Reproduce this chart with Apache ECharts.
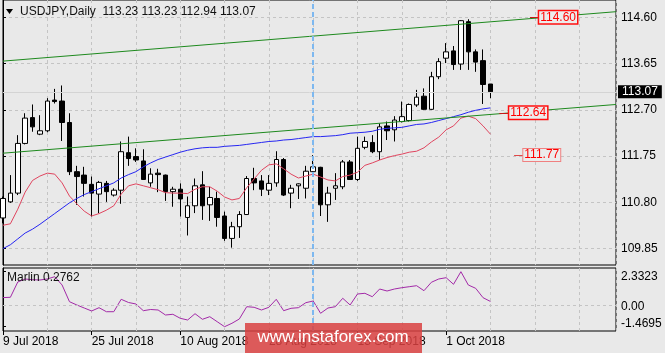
<!DOCTYPE html>
<html>
<head>
<meta charset="utf-8">
<script src="https://cdn.jsdelivr.net/npm/echarts@6/dist/echarts.min.js"></script>
<style>
html, body { margin: 0; padding: 0; background: #e9e9e9; }
#chart { width: 665px; height: 353px; }
</style>
</head>
<body>
<div id="chart"></div>
<script>
// USDJPY daily, 9 Jul 2018 .. 9 Oct 2018 (bar index 0..66)
var symbolTitle = 'USDJPY,Daily  113.23 113.23 112.94 113.07';

var opens = [
  110.48,110.81,110.99,112.01,112.54,112.20,112.27,112.90,112.88,112.44,
  111.43,111.36,111.17,110.97,111.19,110.95,111.05,111.82,111.74,111.65,
  111.20,111.40,111.36,111.02,111.07,110.49,110.73,111.16,110.75,110.88,
  110.52,110.06,110.30,110.55,111.29,111.24,111.05,111.20,111.68,110.99,
  111.14,111.09,111.43,111.52,110.75,111.09,111.12,111.63,111.27,111.93,
  112.03,111.84,112.37,112.29,112.46,112.48,112.80,112.98,112.71,113.38,
  113.76,113.91,113.64,114.51,113.89,113.71,113.23
];
var highs = [
  110.92,111.36,112.18,112.63,112.81,112.59,112.94,113.13,113.20,112.63,
  111.55,111.53,111.33,111.24,111.24,111.09,112.05,112.15,111.91,111.89,
  111.50,111.49,111.37,111.12,111.19,110.92,111.29,111.44,111.12,111.02,
  110.61,110.40,110.62,111.34,111.51,111.36,111.36,111.85,111.71,111.16,
  111.19,111.55,111.77,111.53,111.12,111.40,111.67,111.67,112.15,112.15,
  112.18,112.42,112.46,112.57,112.87,112.83,113.11,113.14,113.48,113.76,
  114.07,114.01,114.54,114.56,113.94,113.94,113.23
];
var lows = [
  110.37,110.79,110.95,111.99,112.25,112.18,112.24,112.83,112.06,111.36,
  110.75,110.92,110.51,110.58,110.81,110.92,110.77,111.55,111.63,111.26,
  111.12,111.01,110.83,110.71,110.51,110.12,110.58,110.44,110.42,110.30,
  110.01,109.87,110.07,110.54,111.05,110.93,110.95,111.12,110.93,110.68,
  110.87,110.88,111.42,110.52,110.40,110.85,111.07,111.26,111.24,111.89,
  111.81,111.67,112.08,112.05,112.44,112.46,112.76,112.70,112.70,113.33,
  113.66,113.52,113.52,113.52,113.48,112.82,112.94
];
var closes = [
  110.88,110.99,112.01,112.53,112.35,112.27,112.88,112.87,112.44,111.43,
  111.33,111.19,110.99,111.21,111.02,111.05,111.84,111.70,111.67,111.27,
  111.38,111.37,111.02,111.07,110.87,110.73,111.14,110.73,110.90,110.49,
  110.06,110.30,110.55,111.29,111.20,111.07,111.19,111.68,110.95,111.09,
  111.18,111.44,111.53,110.75,110.99,111.14,111.63,111.27,111.91,112.05,
  111.84,112.35,112.27,112.49,112.56,112.81,112.96,112.71,113.38,113.69,
  113.89,113.63,114.53,113.89,113.68,113.22,113.07
];

// moving averages
var redLine = [
  110.33,110.36,110.66,111.01,111.25,111.34,111.40,111.38,111.20,110.93,
  110.77,110.62,110.52,110.57,110.64,110.73,110.97,111.14,111.18,111.14,
  111.10,111.06,111.00,110.99,110.99,110.98,111.07,111.12,111.12,111.03,
  110.91,110.85,110.88,111.10,111.28,111.46,111.57,111.59,111.49,111.38,
  111.30,111.34,111.38,111.32,111.26,111.24,111.33,111.36,111.42,111.56,
  111.61,111.67,111.72,111.76,111.79,111.83,111.85,111.92,112.04,112.14,
  112.29,112.37,112.53,112.57,112.52,112.37,112.20
];
var blueLine = [
  109.85,109.93,110.05,110.17,110.25,110.35,110.46,110.57,110.68,110.79,
  110.88,110.96,111.02,111.08,111.14,111.20,111.30,111.37,111.43,111.53,
  111.61,111.68,111.73,111.78,111.83,111.87,111.90,111.92,111.93,111.93,
  111.95,111.96,111.97,111.99,112.01,112.03,112.05,112.06,112.08,112.09,
  112.11,112.13,112.15,112.15,112.16,112.17,112.19,112.22,112.23,112.24,
  112.26,112.30,112.32,112.33,112.34,112.37,112.40,112.41,112.44,112.48,
  112.52,112.56,112.60,112.65,112.69,112.72,112.74
];

// Marlin oscillator (lower pane)
var marlin = [
  0.542,0.563,1.620,1.828,1.779,1.759,1.828,1.987,1.413,0.259,
  0.031,-0.177,-0.384,-0.156,-0.433,-0.433,0.425,0.203,0.100,-0.363,
  -0.280,-0.315,-0.661,-0.612,-0.889,-1.006,-0.571,-0.958,-0.778,-1.124,
  -1.4695,-1.234,-0.937,-0.087,-0.128,-0.315,-0.128,0.425,-0.363,-0.198,
  -0.156,0.190,0.307,-0.543,-0.177,-0.087,0.494,0.031,0.791,0.839,
  0.604,1.136,0.998,1.136,1.226,1.295,1.365,1.019,1.600,1.828,
  1.918,1.461,2.3323,1.413,1.185,0.535,0.2762
];

// trend lines [bar, price]
var upperTrend = [[0, 113.70], [83, 114.715]];
var lowerTrend = [[0, 111.81], [83, 112.81]];

// price tags on the right side
var levelValues = [114.60, 112.64, 111.77];
var levelFrom = [71.35, 67.2, 69.2];
var levelTo = [72.6, 68.55, 70.45];

var priceTicks = [109.85, 110.80, 111.75, 112.70, 113.65, 114.60];
var marlinTicks = [2.3323, 0, -1.4695];
var marlinTickLabels = ['2.3323', '0.00', '-1.4695'];
var dateTicks = [0, 12, 24, 36, 48, 60];
var dateLabels = ['9 Jul 2018', '25 Jul 2018', '10 Aug 2018', '28 Aug 2018', '13 Sep 2018', '1 Oct 2018'];
var lastPrice = 113.07;
var separatorBar = 42;
var lastBar = 83;

var font = '"Liberation Sans", Arial, sans-serif';
var gridDash = {color: '#c4c4c4', type: [3, 3], width: 1};

var candles = opens.map(function (o, i) { return [i, o, closes[i], lows[i], highs[i]]; });
function pts(arr) { return arr.map(function (v, i) { return [i, v]; }); }

var levelMarks = levelValues.map(function (v, k) {
  var third = k === 2;
  return [
    {coord: [levelFrom[k], v],
     lineStyle: {color: third ? '#e04848' : '#c81818', width: 1, type: 'solid'},
     label: {show: true, position: 'end', distance: 0, formatter: v.toFixed(2),
       color: '#ff0000', fontSize: 12, fontFamily: font,
       backgroundColor: '#ececec', borderColor: third ? '#f08080' : '#ff1010',
       borderWidth: third ? 1 : 1.5, padding: [0, 1, 0, 1]}},
    {coord: [levelTo[k], v]}
  ];
});

var chart = echarts.init(document.getElementById('chart'));
chart.setOption({
  backgroundColor: '#e9e9e9',
  animation: false,
  textStyle: {fontFamily: font},
  grid: [
    {left: 3, right: 49, top: 0, height: 265, show: true, borderColor: '#000', borderWidth: 1},
    {left: 3, right: 49, top: 268, height: 63, show: true, borderColor: '#000', borderWidth: 1}
  ],
  xAxis: [
    {gridIndex: 0, type: 'value', min: 0, max: lastBar, interval: 6,
     axisLine: {show: false}, axisTick: {show: false}, axisLabel: {show: false},
     splitLine: {show: true, lineStyle: gridDash}},
    {gridIndex: 1, type: 'value', min: 0, max: lastBar, interval: 6,
     axisLine: {show: false}, axisTick: {show: false}, axisLabel: {show: false},
     splitLine: {show: true, lineStyle: gridDash}},
    {gridIndex: 1, type: 'value', min: 0, max: lastBar, position: 'bottom',
     axisLine: {show: false},
     axisTick: {show: true, customValues: dateTicks, length: 4, lineStyle: {color: '#000'}},
     axisLabel: {customValues: dateTicks, align: 'left', margin: 5, color: '#000', fontSize: 12,
       formatter: function (v) { return dateLabels[dateTicks.indexOf(v)]; }},
     splitLine: {show: false}}
  ],
  yAxis: [
    {gridIndex: 0, type: 'value', position: 'right', min: 109.514, max: 114.955,
     axisLine: {show: true, lineStyle: {color: '#000'}},
     axisTick: {show: true, customValues: priceTicks, length: 3, lineStyle: {color: '#000'}},
     axisLabel: {customValues: priceTicks, color: '#000', fontSize: 12, margin: 5,
       formatter: function (v) { return v.toFixed(2); }},
     splitLine: {show: true, lineStyle: gridDash}},
    {gridIndex: 1, type: 'value', position: 'right', min: -1.7667, max: 2.588,
     axisLine: {show: true, lineStyle: {color: '#000'}},
     axisTick: {show: true, customValues: marlinTicks, length: 3, lineStyle: {color: '#000'}},
     axisLabel: {customValues: marlinTicks, color: '#000', fontSize: 12, margin: 5,
       formatter: function (v) {
         var k = 0, best = 1e9;
         marlinTicks.forEach(function (t, j) { if (Math.abs(t - v) < best) { best = Math.abs(t - v); k = j; } });
         return '{l' + k + '|' + marlinTickLabels[k] + '}';
       },
       rich: {
         l0: {padding: [10, 0, 0, 0], fontSize: 12, color: '#000'},
         l1: {padding: [3, 0, 0, 0], fontSize: 12, color: '#000'},
         l2: {padding: [0, 0, 6, 0], fontSize: 12, color: '#000'}
       }},
     splitLine: {show: false}}
  ],
  series: [
    {type: 'candlestick', xAxisIndex: 0, yAxisIndex: 0, data: candles,
     encode: {x: 0, y: [1, 2, 3, 4]}, barWidth: 5, z: 2,
     itemStyle: {color: '#ffffff', color0: '#000000', borderColor: '#000000', borderColor0: '#000000', borderWidth: 1},
     markLine: {symbol: 'none', silent: true, animation: false, data: [
       {yAxis: lastPrice, lineStyle: {color: '#d4d4d4', width: 1, type: 'solid'},
        label: {show: true, position: 'end', distance: 2, formatter: lastPrice.toFixed(2),
          backgroundColor: '#000', color: '#fff', fontSize: 12, padding: [1, 4, 0, 4]}},
       {xAxis: separatorBar, lineStyle: {color: '#7db8f0', width: 2, type: [5, 3]}, label: {show: false}}
     ]}},
    {type: 'line', xAxisIndex: 0, yAxisIndex: 0, data: pts(redLine), showSymbol: false, z: 3,
     lineStyle: {color: '#e0455f', width: 1}},
    {type: 'line', xAxisIndex: 0, yAxisIndex: 0, data: pts(blueLine), showSymbol: false, z: 3,
     lineStyle: {color: '#2626f2', width: 1}},
    {type: 'line', xAxisIndex: 0, yAxisIndex: 0, data: upperTrend, showSymbol: false, z: 3,
     lineStyle: {color: '#1e8a1e', width: 1},
     markLine: {symbol: 'none', silent: true, animation: false, data: levelMarks}},
    {type: 'line', xAxisIndex: 0, yAxisIndex: 0, data: lowerTrend, showSymbol: false, z: 3,
     lineStyle: {color: '#1e8a1e', width: 1}},
    {type: 'line', xAxisIndex: 1, yAxisIndex: 1, data: pts(marlin), showSymbol: false, z: 3,
     lineStyle: {color: '#a32aa8', width: 1},
     markLine: {symbol: 'none', silent: true, animation: false, data: [
       {yAxis: 0, lineStyle: gridDash, label: {show: false}},
       {xAxis: separatorBar, lineStyle: {color: '#7db8f0', width: 2, type: [5, 3]}, label: {show: false}}
     ]}}
  ],
  graphic: [
    {type: 'polygon', shape: {points: [[6, 9], [13, 9], [9.5, 14]]}, style: {fill: '#000'}, z: 10},
    {type: 'text', x: 20, y: 12, z: 10,
     style: {text: symbolTitle, font: '12px ' + font, fill: '#111', verticalAlign: 'middle'}},
    {type: 'text', x: 7, y: 278, z: 10,
     style: {text: 'Marlin ' + marlin[marlin.length - 1], font: '12px ' + font, fill: '#111', verticalAlign: 'middle'}},
    {type: 'rect', shape: {x: 245, y: 323, width: 177, height: 30}, style: {fill: 'rgba(217,65,65,0.85)'}, z: 20},
    {type: 'text', x: 333, y: 337, z: 21,
     style: {text: 'www.instaforex.com', font: '17px ' + font, fill: '#fff', align: 'center', verticalAlign: 'middle'}}
  ]
});
</script>
</body>
</html>
